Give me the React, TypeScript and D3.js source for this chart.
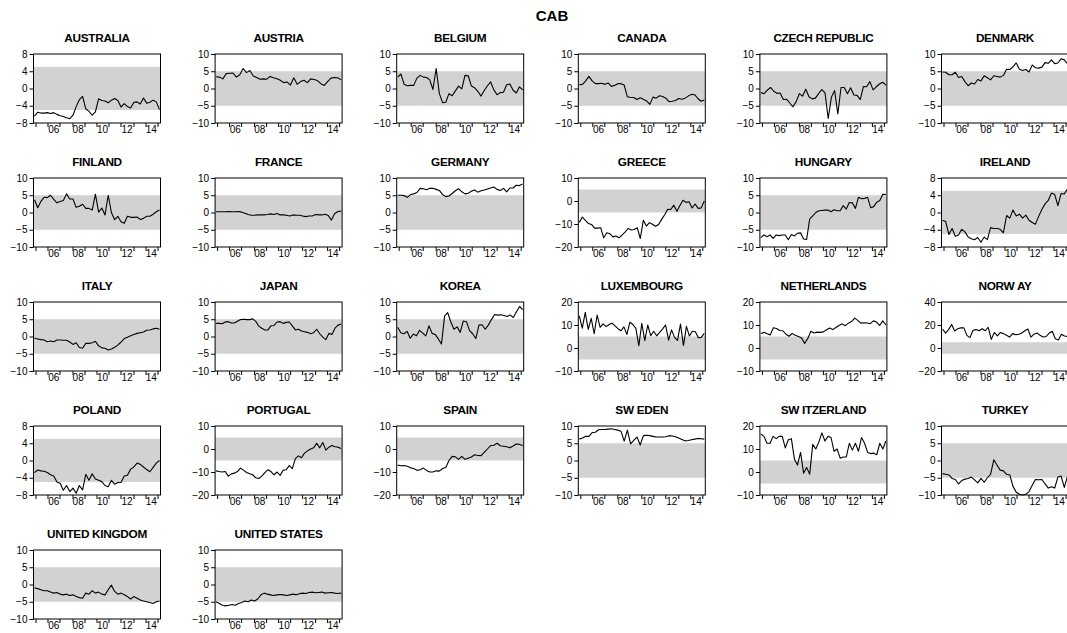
import React, { useEffect, useRef } from "react";
import * as d3 from "d3";

// CAB, % of GDP, quarterly
const countries = [
  "AUSTRALIA", "AUSTRIA", "BELGIUM", "CANADA", "CZECH REPUBLIC", "DENMARK",
  "FINLAND", "FRANCE", "GERMANY", "GREECE", "HUNGARY", "IRELAND",
  "ITALY", "JAPAN", "KOREA", "LUXEMBOURG", "NETHERLANDS", "NORW AY",
  "POLAND", "PORTUGAL", "SPAIN", "SW EDEN", "SW ITZERLAND", "TURKEY",
  "UNITED KINGDOM", "UNITED STATES",
];

const australia = [-6.4, -5.5, -5.7, -5.7, -5.6, -5.8, -5.6, -6.0, -6.3, -6.5, -6.8, -7.0, -6.2, -4.2, -2.6, -1.8, -4.7, -5.3, -6.2, -5.4, -2.4, -2.8, -2.9, -3.3, -2.7, -2.3, -2.8, -4.3, -3.5, -4.2, -4.5, -3.2, -3.1, -3.6, -2.2, -3.4, -3.2, -2.7, -3.1, -4.9];
const austria = [3.4, 3.3, 2.8, 4.3, 4.4, 4.5, 3.3, 4.0, 5.8, 4.6, 5.2, 3.6, 3.2, 2.7, 2.8, 2.7, 3.5, 3.1, 2.8, 2.4, 1.7, 1.9, 1.0, 3.1, 1.2, 2.0, 2.4, 1.7, 2.8, 2.6, 2.3, 1.4, 0.9, 2.0, 3.0, 3.2, 3.1, 2.5];
const belgium = [3.3, 4.2, 1.2, 0.8, 0.9, 0.9, 3.0, 3.8, 3.3, 3.2, 2.5, -0.3, 5.8, -1.5, -4.1, -4.0, -1.5, -2.1, -0.7, 0.7, -0.1, 3.8, 3.7, 0.7, 0.2, -0.8, -2.2, -0.6, 0.8, 1.9, -0.4, -1.8, -1.2, -1.1, 1.1, 1.3, -0.5, -1.3, 0.5, -0.4];
const canada = [1.1, 1.2, 2.2, 3.5, 2.2, 1.4, 1.4, 1.5, 1.2, 1.6, 0.6, 0.9, 1.4, 1.4, 1.0, -2.4, -2.6, -2.6, -3.2, -2.7, -3.1, -3.6, -4.6, -2.5, -2.8, -2.1, -2.3, -2.8, -3.8, -3.7, -3.5, -2.9, -3.1, -2.8, -2.2, -1.7, -1.8, -2.9, -3.7, -3.3];
const czech = [-1.2, -1.5, -0.5, 0.3, -0.8, -1.4, -1.3, -3.2, -3.1, -4.2, -5.3, -3.8, -1.5, -2.2, -0.2, -2.4, -3.0, -2.8, -1.5, -0.3, -1.3, -8.7, -2.5, -0.6, -7.4, 0.3, 0.3, -1.5, 0.2, -1.9, -2.0, -3.2, 0.6, 0.5, 2.0, -0.4, 0.5, 1.3, 1.8, 1.0];
const denmark = [4.8, 4.7, 4.0, 4.0, 4.7, 3.2, 3.5, 2.0, 0.8, 1.6, 1.3, 2.6, 2.2, 3.7, 3.1, 2.5, 3.7, 3.5, 3.3, 3.8, 5.6, 5.5, 6.3, 7.4, 5.6, 5.2, 5.5, 4.8, 6.8, 6.0, 5.9, 6.2, 7.5, 7.3, 8.3, 7.2, 7.4, 8.6, 8.3, 7.2];
const finland = [3.7, 1.4, 3.2, 4.4, 4.3, 5.0, 3.8, 2.8, 3.2, 3.5, 5.4, 3.9, 3.9, 1.5, 1.8, 2.4, 1.2, 1.2, 0.7, 5.3, 0.1, 1.3, -0.7, 5.0, 0.0, -2.1, -1.1, -2.7, -3.1, -1.1, -1.4, -1.4, -1.3, -2.0, -1.7, -1.1, -1.1, -0.5, 0.2, 0.7];
const france = [0.2, 0.2, 0.2, 0.2, 0.3, 0.2, 0.2, 0.3, 0.1, -0.2, -0.6, -0.8, -0.8, -0.7, -0.7, -0.7, -0.6, -0.4, -0.6, -0.3, -0.7, -0.7, -0.8, -1.0, -0.7, -0.8, -0.8, -1.0, -1.2, -1.0, -1.0, -0.6, -0.7, -0.7, -0.5, -0.9, -2.2, -0.3, 0.3, 0.4];
const germany = [5.0, 5.0, 4.9, 4.4, 5.2, 5.4, 5.8, 7.0, 6.9, 6.6, 7.0, 7.0, 6.7, 6.4, 5.2, 4.6, 4.8, 5.5, 6.3, 6.9, 6.0, 5.4, 5.6, 6.2, 6.5, 5.9, 6.3, 6.5, 6.8, 7.1, 7.4, 6.7, 6.4, 7.0, 6.0, 7.1, 7.1, 7.9, 7.8, 8.3];
const greece = [-9.3, -7.0, -8.4, -9.8, -10.2, -11.8, -11.8, -11.6, -16.0, -13.8, -14.2, -15.6, -15.2, -16.0, -14.8, -13.5, -12.0, -12.6, -12.4, -11.6, -16.3, -8.4, -10.9, -9.4, -10.1, -11.0, -10.2, -8.0, -6.0, -3.6, -3.7, -1.8, -4.5, -2.0, 0.3, -0.6, -0.3, -3.0, -1.3, -3.2, -3.0, 0.0];
const hungary = [-7.3, -6.5, -7.0, -6.5, -7.5, -6.5, -6.7, -6.5, -6.5, -7.9, -6.4, -6.8, -6.0, -5.9, -7.7, -7.8, -1.9, -1.0, 0.0, 0.5, 0.6, 0.7, 0.7, 0.2, 0.8, 0.5, 0.5, 2.0, 1.0, 2.9, 2.8, 1.2, 4.4, 4.0, 4.1, 4.4, 1.4, 1.7, 3.0, 3.5, 5.3, 5.2];
const ireland = [-1.8, -2.1, -5.1, -3.7, -5.5, -5.2, -3.9, -4.5, -5.7, -6.1, -6.3, -5.8, -6.9, -5.7, -6.3, -3.5, -3.7, -3.7, -3.9, -4.7, -0.7, -1.3, 0.6, -0.8, -0.4, -1.3, -0.6, -1.8, -2.3, -2.7, -0.9, 0.7, 2.0, 2.8, 4.5, 4.2, 1.6, 4.4, 4.3, 5.5];
const italy = [-0.5, -0.7, -0.9, -1.0, -1.5, -1.3, -1.5, -1.0, -1.0, -1.1, -1.1, -1.6, -2.3, -1.8, -3.2, -3.4, -2.0, -2.0, -1.8, -1.4, -2.7, -3.3, -3.4, -3.9, -3.6, -3.1, -2.5, -1.6, -0.6, -0.2, 0.2, 0.6, 0.9, 1.1, 1.3, 1.8, 1.9, 2.2, 2.4, 2.1];
const japan = [3.8, 3.8, 3.7, 4.2, 4.3, 3.9, 3.9, 4.4, 4.9, 5.0, 4.9, 4.9, 5.1, 4.4, 3.0, 2.4, 1.9, 1.9, 3.1, 3.2, 4.2, 4.3, 3.8, 4.1, 4.2, 3.1, 1.9, 2.1, 1.6, 1.4, 1.2, 0.8, 1.1, 2.1, 0.8, -0.2, -0.9, 0.9, 0.6, 2.4, 3.3, 3.6];
const korea = [2.7, 1.1, 0.8, 1.5, -0.5, 0.7, 0.2, 1.8, 1.0, 0.2, 3.1, 0.9, 0.6, -0.7, -2.2, 5.9, 6.9, 4.2, 2.1, 2.8, 1.2, 4.5, 4.3, 1.7, 0.8, -0.6, 3.3, 3.4, 2.1, 3.3, 4.9, 6.4, 6.2, 6.3, 6.1, 5.8, 6.2, 5.5, 7.2, 8.7, 7.8];
const luxembourg = [14.0, 8.6, 15.5, 8.1, 12.9, 6.2, 14.3, 9.0, 10.5, 9.3, 10.2, 10.8, 9.6, 8.4, 7.5, 9.2, 5.9, 11.2, 10.2, 8.5, 1.0, 10.7, 3.2, 10.0, 5.3, 7.3, 5.3, 6.8, 8.3, 10.0, 3.4, 7.9, 4.6, 3.3, 10.4, 1.1, 9.4, 5.2, 7.3, 7.1, 4.5, 4.6, 6.4];
const netherlands = [6.3, 6.8, 6.2, 5.7, 8.8, 8.5, 7.6, 7.5, 6.0, 5.1, 6.3, 5.5, 5.0, 4.4, 2.0, 4.1, 7.3, 6.5, 6.9, 6.8, 7.0, 7.9, 8.7, 8.0, 8.9, 9.8, 10.5, 9.7, 10.8, 11.5, 13.0, 12.0, 10.8, 11.0, 10.9, 10.6, 11.8, 11.3, 9.8, 11.8, 10.0];
const norway = [16.5, 13.0, 16.0, 20.5, 14.8, 16.8, 17.5, 17.5, 11.0, 9.0, 15.5, 16.0, 15.0, 16.8, 15.0, 18.0, 7.5, 13.5, 10.5, 13.5, 12.5, 11.0, 9.5, 12.5, 11.5, 12.0, 13.0, 15.0, 16.5, 9.5, 12.0, 13.0, 11.0, 9.5, 10.0, 13.0, 14.5, 8.0, 7.0, 12.0, 10.5, 10.0];
const poland = [-2.8, -2.2, -2.4, -2.5, -2.8, -3.3, -3.6, -5.0, -5.3, -6.9, -5.8, -7.2, -6.4, -7.6, -5.8, -6.8, -3.2, -4.6, -3.1, -4.3, -4.6, -4.9, -5.8, -6.1, -4.6, -5.5, -5.1, -5.1, -3.6, -3.4, -2.0, -1.5, -0.6, -0.9, -1.5, -2.1, -2.6, -1.6, -0.6, 0.0];
const portugal = [-9.5, -9.8, -10.0, -9.8, -11.8, -10.8, -10.5, -9.8, -8.3, -9.2, -10.2, -10.8, -11.2, -12.5, -12.8, -11.8, -10.3, -9.0, -9.8, -11.2, -10.0, -11.5, -9.2, -9.0, -7.2, -8.5, -4.2, -3.0, -3.8, -1.8, -0.8, 0.0, 0.5, 2.5, 0.5, 2.8, -0.5, 0.8, 1.5, 1.0, 0.8, 0.2];
const spain = [-7.0, -7.3, -7.2, -7.5, -8.2, -8.5, -9.3, -9.0, -8.3, -9.3, -10.0, -10.0, -9.5, -9.6, -8.5, -8.0, -5.0, -3.2, -3.4, -4.5, -3.2, -4.5, -4.0, -3.5, -2.5, -2.8, -2.9, -1.5, 0.0, 1.5, 1.6, 2.5, 1.4, 1.2, 1.0, 0.5, 1.3, 2.2, 2.0, 1.5];
const sweden = [6.2, 6.5, 7.0, 7.0, 8.1, 8.2, 8.9, 9.0, 9.0, 9.1, 9.2, 9.0, 8.8, 8.5, 5.6, 8.8, 4.8, 5.8, 6.8, 4.5, 7.2, 7.3, 7.2, 7.0, 6.8, 6.8, 6.8, 6.9, 7.2, 7.1, 6.9, 6.5, 6.1, 5.7, 5.8, 6.0, 6.2, 6.4, 6.3, 6.2];
const switzerland = [16.5, 15.5, 12.5, 12.5, 15.5, 14.5, 15.5, 15.5, 10.5, 14.0, 14.5, 5.5, 3.0, 8.5, -0.5, 2.0, -1.0, 12.0, 10.0, 13.0, 17.0, 13.5, 15.5, 15.0, 9.0, 10.0, 6.0, 6.5, 6.5, 12.5, 9.5, 12.5, 9.0, 15.0, 12.5, 8.5, 8.0, 8.2, 7.5, 12.5, 10.0, 13.5];
const turkey = [-3.8, -4.0, -4.2, -5.2, -5.5, -6.8, -5.8, -5.4, -5.2, -4.8, -5.6, -6.5, -5.2, -6.3, -5.0, -4.0, 0.2, -1.3, -2.8, -3.0, -4.0, -4.2, -7.5, -9.2, -9.8, -10.0, -9.8, -9.0, -7.2, -5.5, -5.6, -5.5, -6.8, -8.0, -7.6, -8.0, -4.8, -4.5, -7.8, -4.6];
const uk = [-1.0, -1.2, -1.5, -1.8, -1.8, -2.2, -2.5, -2.3, -2.8, -3.0, -2.8, -3.2, -3.0, -3.5, -3.8, -4.0, -2.5, -2.8, -1.8, -2.5, -2.2, -2.8, -3.0, -1.5, -0.2, -2.0, -2.8, -2.5, -3.0, -3.5, -4.2, -3.5, -4.0, -4.5, -4.8, -5.0, -5.2, -5.5, -5.0, -4.8];
const us = [-5.0, -5.5, -6.0, -6.2, -6.0, -5.8, -6.0, -5.5, -5.2, -4.8, -5.0, -4.5, -4.8, -4.2, -3.0, -2.5, -2.8, -3.0, -3.2, -3.0, -2.9, -3.0, -3.2, -3.0, -2.8, -3.0, -2.7, -2.5, -2.6, -2.3, -2.2, -2.4, -2.3, -2.2, -2.5, -2.4, -2.3, -2.5, -2.6, -2.5];

const series = [
  australia, austria, belgium, canada, czech, denmark,
  finland, france, germany, greece, hungary, ireland,
  italy, japan, korea, luxembourg, netherlands, norway,
  poland, portugal, spain, sweden, switzerland, turkey,
  uk, us,
];

// y axis tick labels for each panel
const ticks8 = [-8, -4, 0, 4, 8];
const ticks10 = [-10, -5, 0, 5, 10];
const ticks20_10 = [-20, -10, 0, 10];
const ticks10_20 = [-10, 0, 10, 20];
const ticks20_40 = [-20, 0, 20, 40];

const yTicks = [
  ticks8, ticks10, ticks10, ticks10, ticks10, ticks10,
  ticks10, ticks10, ticks10, ticks20_10, ticks10, ticks8,
  ticks10, ticks10, ticks10, ticks10_20, ticks10_20, ticks20_40,
  ticks8, ticks20_10, ticks20_10, ticks10, ticks10_20, ticks10,
  ticks10, ticks10,
];

const xLabels = ["06", "08", "10", "12", "14"];
const tickYears = [2005, 2006, 2007, 2008, 2009, 2010, 2011, 2012, 2013, 2014, 2015];
const bandRange = [-5, 5];
// visible time span of each panel
const axisStart = 2004.84;
const axisEnd = 2015.25;

const W = 1067;
const H = 633;

const App = () => {
  const ref = useRef<SVGSVGElement>(null);

  useEffect(() => {
    const svg = d3.select(ref.current);
    svg.selectAll("*").remove();

    const font = "Arial, 'Liberation Sans', sans-serif";
    const pw = 127;
    const ph = 69;
    const colStep = 181.6;
    const rowStep = 124;

    svg.append("text")
      .attr("x", 552).attr("y", 20.5)
      .attr("text-anchor", "middle")
      .style("font-family", font).style("font-size", "15px").style("font-weight", "bold")
      .text("CAB");

    countries.forEach((name, k) => {
      const col = k % 6;
      const row = Math.floor(k / 6);
      const left = 33.5 + col * colStep;
      const top = 54 + row * rowStep;
      const g = svg.append("g").attr("transform", `translate(${left},${top})`);

      const ticks = yTicks[k];
      const y = d3.scaleLinear().domain([ticks[0], ticks[ticks.length - 1]]).range([ph, 0]);
      const t = d3.scaleLinear().domain([axisStart, axisEnd]).range([0, pw]);
      const data = series[k];
      const xi = d3.scaleLinear().domain([0, data.length - 1]).range([1, pw - 1]);

      // shaded -5..5 band
      g.append("rect")
        .attr("x", 0).attr("width", pw)
        .attr("y", y(bandRange[1])).attr("height", y(bandRange[0]) - y(bandRange[1]))
        .attr("fill", "#d2d2d2");

      const line = d3.line<number>()
        .x((d, i) => xi(i))
        .y((d) => y(d));
      g.append("path")
        .datum(data)
        .attr("d", line)
        .attr("fill", "none")
        .attr("stroke", "#000")
        .attr("stroke-width", 1.1)
        .attr("stroke-linejoin", "round");

      // frame
      g.append("rect")
        .attr("x", 0).attr("y", 0).attr("width", pw).attr("height", ph)
        .attr("fill", "none").attr("stroke", "#000").attr("stroke-width", 1);

      // y axis
      const yAxis = d3.axisLeft(y).tickValues(ticks).tickSize(4).tickPadding(2).tickFormat(d3.format("d"));
      const ya = g.append("g").call(yAxis);
      ya.select(".domain").remove();
      ya.selectAll("text").style("font-family", font).style("font-size", "10px").attr("fill", "#000");

      // x axis: year ticks, labels just right of even-year ticks
      g.selectAll(".xt")
        .data(tickYears)
        .enter().append("line")
        .attr("x1", (d) => Math.round(t(d)) + 0.5).attr("x2", (d) => Math.round(t(d)) + 0.5)
        .attr("y1", ph).attr("y2", ph + 4)
        .attr("stroke", "#000");
      g.selectAll(".xl")
        .data(xLabels)
        .enter().append("text")
        .attr("x", (d) => t(2000 + +d + 0.5))
        .attr("y", ph + 9.5)
        .attr("text-anchor", "middle")
        .style("font-family", font).style("font-size", "10px")
        .text((d) => d);

      // panel title
      g.append("text")
        .attr("x", pw / 2).attr("y", -12)
        .attr("text-anchor", "middle")
        .style("font-family", font).style("font-size", "11.8px").style("font-weight", "bold")
        .style("letter-spacing", "-0.3px")
        .text(name);
    });
  }, []);

  return (
    <svg ref={ref} width={W} height={H}
      style={{ position: "absolute", left: 0, top: 0, background: "#fff" }} />
  );
};

export default App;
